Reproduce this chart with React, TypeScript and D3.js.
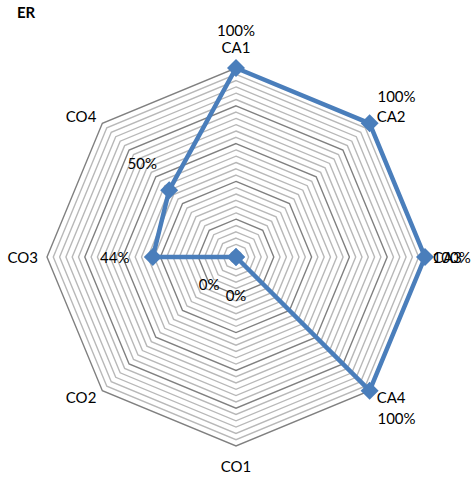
import React from 'react';
import * as d3 from 'd3';

const title = 'ER';
const categories = ['CA1', 'CA2', 'CA3', 'CA4', 'CO1', 'CO2', 'CO3', 'CO4'];
const values = [1, 1, 1, 1, 0, 0, 0.44, 0.5];
const valueLabels = ['100%', '100%', '100%', '100%', '0%', '0%', '44%', '50%'];
const ringCount = 30;
const majorEvery = 6;

const W = 473;
const H = 477;
const cx = 236;
const cy = 257;
const R = 189;
const FONT = 'Lato, "Liberation Sans", Arial, sans-serif';
const BLUE = '#4a7ebb';

export default function App() {
  const n = categories.length;
  const r = d3.scaleLinear().domain([0, 1]).range([0, R]);
  const angle = (i: number) => (i * 2 * Math.PI) / n;
  const rings = d3.range(1, ringCount + 1).map((k) => k / ringCount);
  const ringLine = (v: number) =>
    d3
      .lineRadial<number>()
      .angle((_, i) => angle(i))
      .radius(() => r(v))
      .curve(d3.curveLinearClosed)(categories.map(() => v)) as string;
  const dataLine = d3
    .lineRadial<number>()
    .angle((_, i) => angle(i))
    .radius((d) => r(d))
    .curve(d3.curveLinearClosed)(values) as string;

  const pt = (i: number, v: number) => {
    const a = angle(i);
    return [cx + r(v) * Math.sin(a), cy - r(v) * Math.cos(a)];
  };

  const minor = rings.filter((_, k) => (k + 1) % majorEvery !== 0);
  const major = rings.filter((_, k) => (k + 1) % majorEvery === 0);

  return (
    <svg width={W} height={H} style={{ position: 'absolute', left: 0, top: 0, background: '#fff' }}>
      <text x={17} y={18} fontFamily={FONT} fontWeight="bold" fontSize={15} fill="#000">
        {title}
      </text>
      <g transform={`translate(${cx},${cy})`}>
        {minor.map((v, k) => (
          <path key={'m' + k} d={ringLine(v)} fill="none" stroke="#b8b8b8" strokeWidth={1.4} />
        ))}
        {major.map((v, k) => (
          <path key={'M' + k} d={ringLine(v)} fill="none" stroke="#808080" strokeWidth={1.4} />
        ))}
        <path d={dataLine} fill="none" stroke={BLUE} strokeWidth={4.5} strokeLinejoin="round" />
      </g>
      {values.map((v, i) => {
        const [x, y] = pt(i, v);
        const s = 9;
        return (
          <path
            key={'d' + i}
            d={`M${x},${y - s}L${x + s},${y}L${x},${y + s}L${x - s},${y}Z`}
            fill={BLUE}
          />
        );
      })}
      {categories.map((c, i) => {
        const a = angle(i);
        const sx = Math.sin(a);
        const sc = Math.cos(a);
        const [x, y] = pt(i, 1);
        let anchor = 'middle';
        let dx = 0;
        let dy = 0;
        if (Math.abs(sx) < 0.1) {
          dy = sc > 0 ? -21 : 20;
        } else if (Math.abs(sc) < 0.1) {
          anchor = sx > 0 ? 'start' : 'end';
          dx = sx > 0 ? 8 : -9;
        } else {
          anchor = sx > 0 ? 'start' : 'end';
          dx = sx > 0 ? 7 : -6;
          dy = sc > 0 ? -7 : 6;
        }
        return (
          <text
            key={'c' + i}
            x={x + dx}
            y={y + dy}
            textAnchor={anchor}
            dominantBaseline="central"
            fontFamily={FONT}
            fontSize={15}
            fill="#000"
          >
            {c}
          </text>
        );
      })}
      {values.map((v, i) => {
        const a = angle(i);
        const [x, y] = pt(i, v);
        let lx = x + 38 * Math.sin(a);
        const ly = y - 38 * Math.cos(a);
        const half = valueLabels[i].length * 4.6;
        if (lx + half > W - 3) lx = W - 3 - half;
        return (
          <text
            key={'v' + i}
            x={lx}
            y={ly}
            textAnchor="middle"
            dominantBaseline="central"
            fontFamily={FONT}
            fontSize={15}
            fill="#000"
          >
            {valueLabels[i]}
          </text>
        );
      })}
    </svg>
  );
}
